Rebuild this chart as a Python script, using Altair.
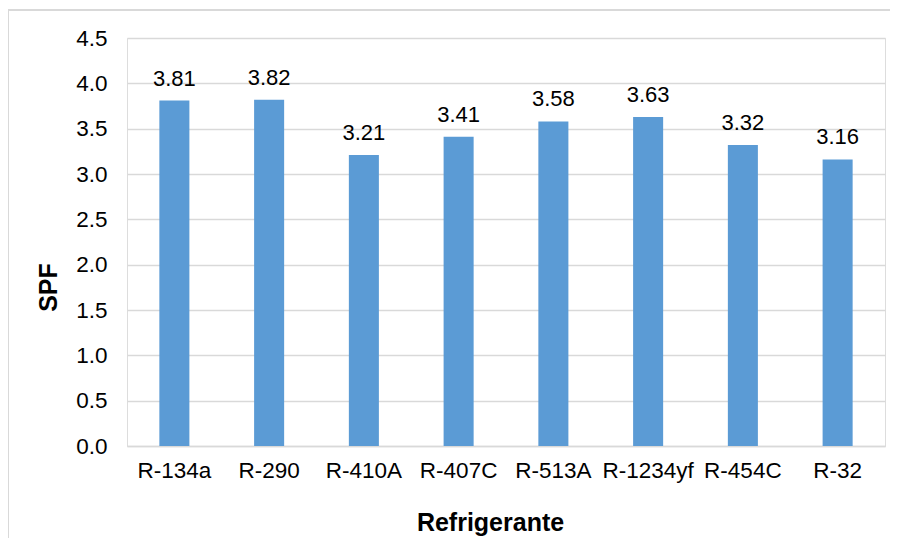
import altair as alt
import pandas as pd

refrigerantes = ["R-134a", "R-290", "R-410A", "R-407C", "R-513A", "R-1234yf", "R-454C", "R-32"]
spf = [3.81, 3.82, 3.21, 3.41, 3.58, 3.63, 3.32, 3.16]
y_ticks = [0, 0.5, 1.0, 1.5, 2.0, 2.5, 3.0, 3.5, 4.0, 4.5]

df = pd.DataFrame({"Refrigerante": refrigerantes, "SPF": spf})

FONT = "Liberation Sans"
W, H = 758, 408

x_enc = alt.X(
    "Refrigerante:N",
    sort=refrigerantes,
    scale=alt.Scale(paddingInner=0.683, paddingOuter=0.3415),
    axis=alt.Axis(
        title="Refrigerante",
        labelAngle=0,
        labelFont=FONT,
        labelFontSize=22.5,
        labelColor="#000000",
        labelPadding=13,
        ticks=False,
        domainColor="#d9d9d9",
        domainWidth=1.5,
        titleFont=FONT,
        titleFontSize=25,
        titleFontWeight="bold",
        titleColor="#000000",
        titleX=363,
        titleY=76,
        titleBaseline="middle",
        titleAlign="center",
    ),
)

y_enc = alt.Y(
    "SPF:Q",
    scale=alt.Scale(domain=[0, 4.5], nice=False),
    axis=alt.Axis(
        title="SPF",
        values=y_ticks,
        format=".1f",
        labelFont=FONT,
        labelFontSize=22.5,
        labelColor="#000000",
        labelPadding=20,
        ticks=False,
        domain=False,
        gridColor="#d9d9d9",
        gridWidth=1.5,
        titleFont=FONT,
        titleFontSize=25,
        titleFontWeight="bold",
        titleColor="#000000",
        titleX=-79,
        titleY=249,
        titleBaseline="middle",
        titleAlign="center",
        titleAngle=270,
    ),
)

border = alt.Chart(df).mark_rect(
    fill=None, stroke="#d9d9d9", strokeWidth=1.5, clip=False
).encode(
    x=alt.value(-119), x2=alt.value(W + 40), y=alt.value(-28), y2=alt.value(H + 120)
)

bars = alt.Chart(df).mark_bar(color="#5B9BD5").encode(x=x_enc, y=y_enc)

labels = alt.Chart(df).mark_text(
    font=FONT, fontSize=22, color="#000000", baseline="alphabetic", dy=-15
).encode(
    x=alt.X("Refrigerante:N", sort=refrigerantes),
    y=alt.Y("SPF:Q"),
    text=alt.Text("SPF:Q", format=".2f"),
)

chart = alt.layer(border, bars, labels).properties(
    width=W,
    height=H,
    autosize=alt.AutoSizeParams(type="none"),
    padding={"left": 119, "top": 30, "right": 5, "bottom": 92},
).configure_view(stroke=None).configure(background="white")

chart.save("out.html", embed_options={"renderer": "svg", "actions": False})
